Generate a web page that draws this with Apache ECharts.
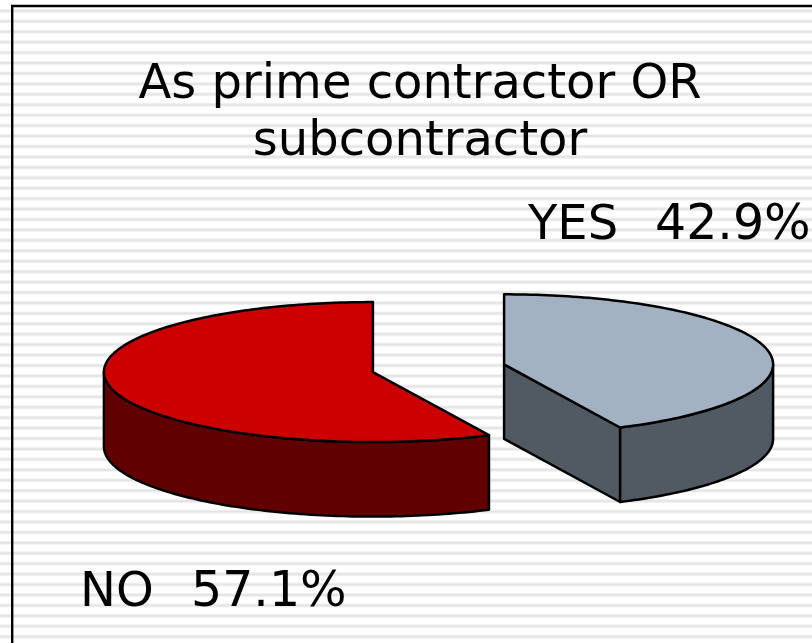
<!DOCTYPE html>
<html>
<head>
<meta charset="utf-8">
<style>
  html, body { margin: 0; padding: 0; background: #fff; overflow: hidden; }
  #main { width: 812px; height: 643px; }
</style>
<script src="https://cdn.jsdelivr.net/npm/echarts@6/dist/echarts.min.js"></script>
</head>
<body>
<div id="main"></div>
<script>
var titleLines = ['As prime contractor OR', 'subcontractor'];
var categories = ['YES', 'NO'];
var values = [42.9, 57.1];

var sliceColors = ['#a2b2c2', '#cc0000'];
var wallColors = ['#515963', '#600000'];
// x of category, x of value, top of text
var labelPos = [[528, 655, 203], [80, 191, 570]];

// pie geometry
var cx = 438.5, cy = 368.2, rx = 269, ry = 70, depth = 74.5, explode = 0.25;
var lineW = 2.5;

var total = values.reduce(function (a, b) { return a + b; }, 0);

function stripes() {
  var c = document.createElement('canvas');
  c.width = 812;
  c.height = 643;
  var ctx = c.getContext('2d');
  ctx.fillStyle = '#fff';
  ctx.fillRect(0, 0, 812, 643);
  for (var y = 9.4; y < 643; y += 10.43) {
    ctx.fillStyle = '#f2f2f2';
    ctx.fillRect(0, y - 0.5, 812, 4);
    ctx.fillStyle = '#e5e5e5';
    ctx.fillRect(0, y + 0.5, 812, 2);
  }
  return c;
}

function pt(ox, oy, t, dy) {
  return [ox + rx * Math.sin(t), oy - ry * Math.cos(t) + (dy || 0)];
}

function arc(ox, oy, a, b, dy) {
  var out = [];
  var n = Math.max(2, Math.ceil(Math.abs(b - a) / 0.02));
  for (var i = 0; i <= n; i++) {
    out.push(pt(ox, oy, a + (b - a) * i / n, dy));
  }
  return out;
}

function labelText(text, x, y, size) {
  return {
    type: 'text',
    style: { text: text, x: x, y: y, fill: '#000', font: size + 'px "DejaVu Sans"' }
  };
}

function renderSlice(params, api) {
  var i = params.dataIndex;
  var start = 0;
  for (var k = 0; k < i; k++) start += values[k];
  var a = start / total * Math.PI * 2;
  var b = a + api.value(0) / total * Math.PI * 2;
  var mid = (a + b) / 2;
  var ox = cx + explode * rx * Math.sin(mid);
  var oy = cy - explode * ry * Math.cos(mid);
  var style = { fill: wallColors[i], stroke: '#000', lineWidth: lineW, lineJoin: 'round' };
  var kids = [];

  // cut face turned to the viewer
  [[a, a > Math.PI], [b, b < Math.PI]].forEach(function (e) {
    if (!e[1]) return;
    var p = pt(ox, oy, e[0]);
    kids.push({ type: 'polygon', shape: { points: [[ox, oy], p, [p[0], p[1] + depth], [ox, oy + depth]] }, style: style });
  });

  // front part of the outer wall
  var w0 = Math.max(a, Math.PI / 2), w1 = Math.min(b, Math.PI * 1.5);
  if (w1 > w0) {
    var wall = arc(ox, oy, w0, w1).concat(arc(ox, oy, w1, w0, depth));
    kids.push({ type: 'polygon', shape: { points: wall }, style: style });
  }

  // top face
  kids.push({
    type: 'polygon',
    shape: { points: [[ox, oy]].concat(arc(ox, oy, a, b)) },
    style: { fill: sliceColors[i], stroke: '#000', lineWidth: lineW, lineJoin: 'round' }
  });

  kids.push(labelText(categories[i], labelPos[i][0], labelPos[i][2], 48));
  kids.push(labelText(api.value(0).toFixed(1) + '%', labelPos[i][1], labelPos[i][2] - 1, 49));
  return { type: 'group', children: kids };
}

var chart = echarts.init(document.getElementById('main'), null, { renderer: 'canvas' });
chart.setOption({
  animation: false,
  backgroundColor: { image: stripes(), repeat: 'no-repeat' },
  title: {
    text: titleLines.join('\n'),
    left: 415, top: 52, textAlign: 'center',
    textStyle: { fontFamily: 'DejaVu Sans', fontSize: 48, fontWeight: 'normal', color: '#000', lineHeight: 57 }
  },
  graphic: [{
    type: 'polyline',
    shape: { points: [[12.2, 643], [12.2, 6], [812, 6]] },
    style: { stroke: '#000', lineWidth: 2.4, fill: null }
  }],
  series: [{
    type: 'custom',
    coordinateSystem: 'none',
    renderItem: renderSlice,
    data: values.map(function (v) { return [v]; })
  }]
});
</script>
</body>
</html>
